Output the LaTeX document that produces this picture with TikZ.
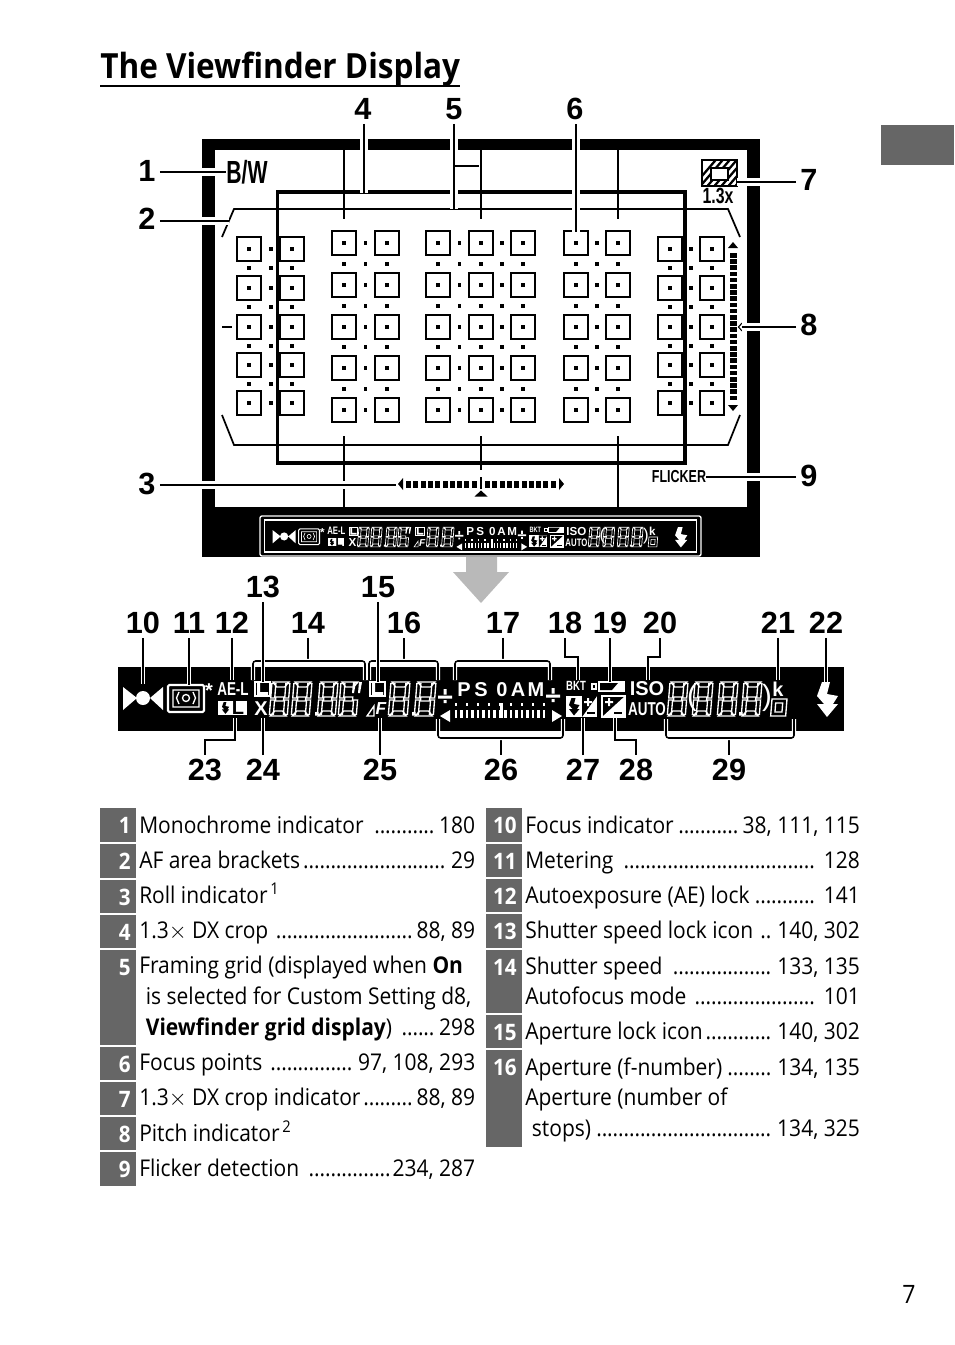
\documentclass[tikz,border=0pt]{standalone}
\usepackage{fontspec}
\setmainfont[FakeStretch=0.91]{Open Sans}
\setsansfont{Liberation Sans}
\newfontfamily\condfont[FakeStretch=0.72]{Liberation Sans}
\usetikzlibrary{positioning,calc}
\definecolor{tabgray}{HTML}{666666}
\definecolor{arrowgray}{HTML}{B9B9B9}

% leader dots of the table
\newcommand{\dotrun}{\leaders\hbox to 4.1pt{\hss.\hss}\hfill}

% seven segment digit, with and without the upper right segment
\newcommand{\segsix}[4]{
  \begin{scope}[shift={(#1,#2)},xslant=.08]
    \draw[lcdline] (1,0) -- (#3-1,0) -- (#3-5,5) -- (5,5) -- cycle;
    \draw[lcdline] (1,#4) -- (#3-1,#4) -- (#3-5,#4-5) -- (5,#4-5) -- cycle;
    \draw[lcdline] (5,#4/2-2) rectangle (#3-5,#4/2+2);
    \draw[lcdline] (0,1.5) rectangle (4,#4/2-1) (0,#4/2+1) rectangle (4,#4-1.5) (#3-4,#4/2+1) rectangle (#3,#4-1.5);
  \end{scope}
}
\newcommand{\segeight}[4]{
  \segsix{#1}{#2}{#3}{#4}
  \begin{scope}[shift={(#1,#2)},xslant=.08]
    \draw[lcdline] (#3-4,1.5) rectangle (#3,#4/2-1);
  \end{scope}
}
% flash bolt, drawn 21 wide and 35 high
\newcommand{\boltshape}[4]{
  \fill[#4] (#1,#2) [shift={(#1,#2)},scale=#3] (5,0) -- (13,0) -- (10,12) -- (21,14) -- (16,22) -- (21,22) -- (10,35) -- (0,22) -- (7,22) -- (0,14) -- cycle;
}
% the division sign of the exposure display
\newcommand{\plusdiv}[2]{
  \fill[white] (#1-7,#2-1.5) rectangle (#1+7,#2+1.5) (#1-1.5,#2-8) rectangle (#1+1.5,#2-2.5) (#1-1.5,#2+3) rectangle (#1+1.5,#2+6);
}

% the display strip, used large and small
\newcommand{\lcdbar}[1]{
  % focus indicator
  \fill[white] (123,687) -- (137,698) -- (123,710) -- cycle (163,687) -- (150,698) -- (163,710) -- cycle (143,698) circle (7);
  % metering
  \draw[lcdline,line width=1.6*\lcdlw,rounded corners=1] (168,685) rectangle (204,712);
  \draw[lcdline] (173,690) rectangle (199,707) (186,698) circle (3.5);
  \draw[lcdline] (179,692) -- (176.5,698) -- (179,704) (193,692) -- (195.5,698) -- (193,704);
  \node[lcdtext] (#1star) at (209,691) {*};
  \node[lcdcond] (#1ael) at (233,689) {AE-L};
  % flash lock
  \fill[white] (218,701) rectangle (247,715);
  \begin{scope}[shift={(222,702)},scale=.34]
    \boltshape{0}{0}{1}{black}
  \end{scope}
  \node[lcdtext,text=black] (#1fl) at (238,708) {L};
  % lock icons
  \foreach \x/\id in {255/a,370/b} {
    \draw[lcdline] (\x,682) rectangle ++(15,14);
    \fill[white] (\x+2,683) rectangle ++(3,12) (\x+2,692) rectangle ++(11,3);
  }
  \node[lcdtext] (#1x) at (261,709) {X};
  % shutter speed
  \foreach \x in {272,294,320} {\segeight{\x}{682}{18}{34}}
  \segsix{341}{682}{18}{34}
  \fill[white] (315,712) rectangle ++(3.5,3.5) (412,712) rectangle ++(3.5,3.5) (739,712) rectangle ++(3.5,3.5);
  \fill[white] (353,682) -- (356,682) -- (354,693) -- (352,693) -- cycle (359,682) -- (362,682) -- (360,693) -- (358,693) -- cycle;
  % aperture
  \draw[lcdline] (367,716) -- (374,706) -- (374,716) -- cycle;
  \node[lcdtext,font=\sffamily\bfseries\itshape\fontsize{13}{13}\selectfont] (#1f) at (381,709) {F};
  \segeight{391}{682}{19}{34}
  \segeight{417}{682}{19}{34}
  % modes
  \plusdiv{445}{697}
  \plusdiv{553}{696}
  \foreach \x/\ch in {464/P,481/S,502/0,518/A,536/M} {
    \node[lcdtext] (#1m\ch) at (\x,690) {\ch};
  }
  % exposure indicator
  \fill[white] (450,710) -- (440,716) -- (450,722) -- cycle (552,710) -- (562,716) -- (552,722) -- cycle;
  \foreach \x [count=\i] in {456,461.5,...,548} {
    \fill[white] (\x-1.2,710) rectangle ++(2.4,8);
    \ifodd\i \fill[white] (\x-1.2,703) rectangle ++(2.4,3); \fi
  }
  \fill[white] (499.5,703) rectangle (502.5,718);
  % bracketing and battery
  \node[lcdcond,font=\condfont\bfseries\fontsize{10}{10}\selectfont] (#1bkt) at (576,686) {BKT};
  \draw[lcdline] (592,684) rectangle ++(4,5);
  \fill[white] (598,681) rectangle (625,692);
  \fill[black] (600,683) -- (618,683) -- (612,690) -- (600,690) -- cycle;
  % flash and exposure compensation
  \fill[white] (566,696) rectangle (597,717);
  \begin{scope}[shift={(569,698)},scale=.5]
    \boltshape{0}{0}{1}{black}
  \end{scope}
  \fill[black] (582,717) -- (597,696) -- (582,696) -- cycle;
  \fill[white] (584,701) rectangle ++(8,2) (587,698) rectangle ++(2,8);
  \fill[black] (587,712) rectangle ++(8,2);
  \draw[lcdline] (602,696) rectangle (625,717);
  \fill[white] (602,717) -- (625,696) -- (625,717) -- cycle;
  \fill[white] (605,701) rectangle ++(8,2) (608,698) rectangle ++(2,8);
  \fill[black] (614,712) rectangle ++(8,2);
  % sensitivity and frame count
  \node[lcdtext] (#1iso) at (647,689) {ISO};
  \node[lcdcond] (#1auto) at (647,709) {AUTO};
  \segeight{670}{682}{18}{34}
  \node[lcdtext,font=\sffamily\fontsize{22}{22}\selectfont] (#1pl) at (692,698) {(};
  \segeight{695}{682}{18}{34}
  \segeight{720}{682}{18}{34}
  \segeight{744}{682}{18}{34}
  \node[lcdtext,font=\sffamily\fontsize{22}{22}\selectfont] (#1pr) at (767,698) {)};
  \node[lcdtext] (#1k) at (778,689) {k};
  \begin{scope}[shift={(772,699)},xslant=.08]
    \draw[lcdline] (0,0) rectangle (15,17) (4,4) rectangle (11,13);
  \end{scope}
  % ready light
  \boltshape{817}{682}{1}{white}
}

\begin{document}
\newcommand{\lcdlw}{1pt}
\begin{tikzpicture}[
    x=.75pt, y=-.75pt,
    numlabel/.style={font=\sffamily\bfseries\fontsize{23}{23}\selectfont, inner sep=3pt},
    lead/.style={line width=1.15pt, preaction={draw=white, line width=5.5pt}},
    leadbar/.style={line width=1.15pt, preaction={draw=white, line width=3.2pt}},
    gridline/.style={line width=1.3pt},
    afpoint/.style={rectangle, draw, line width=1.1pt, minimum size=18pt, inner sep=0pt},
    lcdline/.style={draw=white, line width=\lcdlw},
    lcdtext/.style={text=white, inner sep=0pt, font=\sffamily\bfseries\fontsize{15}{15}\selectfont},
    lcdcond/.style={text=white, inner sep=0pt, font=\condfont\bfseries\fontsize{14}{14}\selectfont},
    tabnum/.style={fill=tabgray, text=white, font=\bfseries\fontsize{17}{17}\selectfont},
    tabtext/.style={anchor=base west, inner sep=0pt, font=\fontsize{17.3}{17.3}\selectfont}
]
    \useasboundingbox (0,0) rectangle (954,1345);

    % Title and page furniture
    \node[anchor=base west, inner sep=0pt, font=\bfseries\fontsize{26}{26}\selectfont] (title) at (100,79) {The Viewfinder Display};
    \draw[line width=1.5pt] (100,86) -- (460,86);
    \fill[tabgray] (881,125) rectangle (954,165);
    \node[inner sep=0pt, font=\fontsize{19}{19}\selectfont] (pagenum) at (909,1294) {7};

    % Viewfinder frame
    \fill[black] (202,139) rectangle (760,557);
    \fill[white] (215,150) rectangle (747,507);

    % Crop area and brackets
    \draw[line width=2.7pt] (277.5,192) rectangle (685,463);
    \draw[gridline] (222,237) -- (234,209) -- (728,209) -- (740,237);
    \draw[gridline] (222,415) -- (234,445) -- (728,445) -- (740,415);
    \draw[gridline, line width=1.8pt] (222,327) -- (232,327);

    % Framing grid
    \foreach \x in {344,481,618} {
        \draw[gridline] (\x,150) -- (\x,219);
        \draw[gridline] (\x,436) -- (\x,470);
    }
    \foreach \x in {344,618} {
        \draw[gridline] (\x,470) -- (\x,507);
    }

    % Focus points
    \foreach \x in {249,292,670,712} {
        \foreach \y in {249,288,327,365,403} {
            \node[afpoint] (p\x-\y) at (\x,\y) {};
            \fill (\x-1.7,\y-1.7) rectangle ++(3.4,3.4);
        }
        \foreach \y in {268,307,346,384} {
            \fill (\x-1.7,\y-1.7) rectangle ++(3.4,3.4);
        }
    }
    \foreach \x in {270.5,691} {
        \foreach \y in {249,268,288,307,327,346,365,384,403} {
            \fill (\x-2,\y-2) rectangle ++(4,4);
        }
    }
    \foreach \x in {344,387,438,481,523,576,618} {
        \foreach \y in {243,285,327,368,410} {
            \node[afpoint] (p\x-\y) at (\x,\y) {};
            \fill (\x-1.7,\y-1.7) rectangle ++(3.4,3.4);
        }
        \foreach \y in {264,306,347,389} {
            \fill (\x-1.7,\y-1.7) rectangle ++(3.4,3.4);
        }
    }
    \foreach \x in {365.5,459.5,502,597} {
        \foreach \y in {243,264,285,306,327,347,368,389,410} {
            \fill (\x-1.7,\y-1.7) rectangle ++(3.4,3.4);
        }
    }

    % Pitch indicator
    \fill (733,242) -- (738,248) -- (728,248) -- cycle (733,411) -- (738,405) -- (728,405) -- cycle;
    \foreach \y in {253,259.2,...,400} {
        \fill (729.5,\y) rectangle ++(7,4.6);
    }
    \draw[line width=.8pt] (742,323) -- (738.5,327) -- (742,331);

    % Roll indicator
    \fill (398,484) -- (403,478) -- (403,490) -- cycle (564,484) -- (559,478) -- (559,490) -- cycle;
    \foreach \x in {406,413.3,...,474} {
        \fill (\x,480.5) rectangle ++(5,7);
    }
    \foreach \x in {485,492.3,...,552} {
        \fill (\x,480.5) rectangle ++(5,7);
    }
    \draw[gridline] (481,477) -- (481,489);
    \fill (481,490.5) -- (487.5,496.5) -- (474.5,496.5) -- cycle;

    % Crop icon
    \begin{scope}
        \clip (702,160) rectangle (737,186);
        \foreach \x in {690,697,...,760} {
            \draw[line width=1.7pt] (\x,190) -- (\x+30,155);
        }
    \end{scope}
    \draw[line width=1.2pt, fill=white] (711,168) rectangle (728,180);
    \draw[line width=1.5pt] (702,160) rectangle (737,186);
    \node[inner sep=0pt, font=\condfont\bfseries\fontsize{16.5}{16.5}\selectfont] (crop) at (718,196) {1.3x};
    \node[inner sep=0pt, font=\condfont\bfseries\fontsize{24}{24}\selectfont] (bw) at (247,172) {\scalebox{.92}[1]{B/W}};
    \node[inner sep=0pt, font=\condfont\bfseries\fontsize{13}{13}\selectfont] (flicker) at (679,477) {FLICKER};

    % Small display in the frame
    \draw[white, line width=1pt, rounded corners=1.5pt] (260,516) rectangle (701,556);
    \draw[white, line width=.9pt] (264.5,520) rectangle (696.5,552);
    \begin{scope}[shift={(201.2,131.6)}, scale=.58, transform shape]
        \renewcommand{\lcdlw}{.5pt}
        \lcdbar{m}
    \end{scope}

    % Gray arrow
    \fill[arrowgray] (466,557) -- (497,557) -- (497,572) -- (509,572) -- (481,603) -- (453,572) -- (466,572) -- cycle;

    % Numbers around the frame
    \node[numlabel] (n1) at (147,171) {1};
    \node[numlabel] (n2) at (147,219) {2};
    \node[numlabel] (n3) at (147,484) {3};
    \node[numlabel] (n4) at (363,109) {4};
    \node[numlabel] (n5) at (454,109) {5};
    \node[numlabel] (n6) at (575,109) {6};
    \node[numlabel] (n7) at (809,180) {7};
    \node[numlabel] (n8) at (809,325) {8};
    \node[numlabel] (n9) at (809,476) {9};
    \coordinate (c2) at (229,221);
    \coordinate (c3) at (396,485);
    \coordinate (c4) at (364,193);
    \coordinate (c5) at (454,209);
    \coordinate (c5b) at (479,166);
    \coordinate (c6) at (576,232);
    \coordinate (c7) at (737,182);
    \coordinate (c8) at (742,327);

    \draw[lead] (n1.east |- bw.west) -- (bw.west);
    \draw[lead] (n2.east |- c2) -- (c2);
    \draw[lead] (n3.east |- c3) -- (c3);
    \draw[lead] (n4.south -| c4) -- (c4);
    \draw[lead] (n5.south -| c5) -- (c5);
    \draw[line width=1.15pt] (c5 |- c5b) -- (c5b);
    \draw[lead] (n6.south -| c6) -- (c6);
    \draw[lead] (n7.west |- c7) -- (c7);
    \draw[lead] (n8.west |- c8) -- (c8);
    \draw[lead] (n9.west |- flicker.east) -- (flicker.east);

    % Large display
    \fill[black] (118,667) rectangle (844,731);
    \lcdbar{b}

    % Number brackets above and below the display
    \foreach \n/\x/\tx/\xa/\xb in {14/308/308/253/365, 16/404/404/369/438, 17/503/503/455/550} {
        \node[numlabel] (n\n) at (\x,623) {\n};
        \coordinate (t\n) at (\tx,661);
        \draw[leadbar] (n\n.south) -- (t\n);
        \draw[leadbar, rounded corners=2pt] (\xa,680) |- (t\n) -| (\xb,680);
    }
    \foreach \n/\x/\xa/\xb in {26/501/438/563, 29/729/666/794} {
        \node[numlabel] (n\n) at (\x,770) {\n};
        \coordinate (t\n) at (\x,738);
        \draw[leadbar] (n\n.north) -- (t\n);
        \draw[leadbar, rounded corners=2pt] (\xa,719) |- (t\n) -| (\xb,719);
    }

    % Straight numbers above and below the display
    \foreach \n/\x/\y/\yend in {10/143/623/684, 11/189/623/685, 12/232/623/680, 13/263/587/682, 15/378/587/682, 19/610/623/682, 21/778/623/680, 22/826/623/682} {
        \node[numlabel] (n\n) at (\x,\y) {\n};
        \coordinate (c\n) at (\x,\yend);
        \draw[leadbar] (n\n.south) -- (c\n);
    }
    \foreach \n/\x/\yend in {24/263/718, 25/380/718, 27/583/718} {
        \node[numlabel] (n\n) at (\x,770) {\n};
        \coordinate (c\n) at (\x,\yend);
        \draw[leadbar] (n\n.north) -- (c\n);
    }

    % Numbers with a kink
    \node[numlabel] (n18) at (565,623) {18};
    \coordinate (c18) at (578,680);
    \draw[leadbar] (n18.south) |- (578,657) -- (c18);
    \node[numlabel] (n20) at (660,623) {20};
    \coordinate (c20) at (648,680);
    \draw[leadbar] (n20.south) |- (648,657) -- (c20);
    \node[numlabel] (n23) at (205,770) {23};
    \coordinate (c23) at (235,718);
    \draw[leadbar] (n23.north) |- (235,740) -- (c23);
    \node[numlabel] (n28) at (636,770) {28};
    \coordinate (c28) at (615,718);
    \draw[leadbar] (n28.north) |- (615,740) -- (c28);

    % Table number boxes
    \foreach \n/\ya/\yb in {1/808/842, 2/844/878, 3/880/913, 4/915/948, 5/950/1045, 6/1047/1080, 7/1082/1115, 8/1117/1150, 9/1152/1186} {
        \fill[tabgray] (100,\ya) rectangle (136,\yb);
        \node[tabnum, anchor=north east, inner sep=0pt] (b\n) at (131,\ya+9) {\n};
    }
    \foreach \n/\ya/\yb in {10/808/842, 11/844/877, 12/879/912, 13/914/948, 14/950/1013, 15/1015/1048, 16/1050/1147} {
        \fill[tabgray] (486,\ya) rectangle (522,\yb);
        \node[tabnum, anchor=north east, inner sep=0pt] (b\n) at (517,\ya+9) {\n};
    }

    % Table text, left column
    \foreach \y/\txt [count=\i] in {
        833/{Monochrome indicator \dotrun 180},
        868/{AF area brackets\dotrun\ 29},
        903/{Roll indicator\textsuperscript{\,1}},
        938/{1.3$\times$ DX crop \dotrun 88, 89},
        973/{Framing grid (displayed when \textbf{On}},
        1004/{\kern5pt is selected for Custom Setting d8,},
        1035/{\kern5pt\textbf{Viewfinder grid display}) \dotrun 298},
        1070/{Focus points \dotrun\ 97, 108, 293},
        1105/{1.3$\times$ DX crop indicator\dotrun 88, 89},
        1141/{Pitch indicator\textsuperscript{\,2}},
        1176/{Flicker detection \dotrun 234, 287}} {
        \node[tabtext] (lrow\i) at (139,\y) {\hbox to 252pt{\txt\hfil}};
    }

    % Table text, right column
    \foreach \y/\txt [count=\i] in {
        833/{Focus indicator\dotrun 38, 111, 115},
        868/{Metering \dotrun\ 128},
        903/{Autoexposure (AE) lock\dotrun\ 141},
        938/{Shutter speed lock icon \dotrun\ 140, 302},
        974/{Shutter speed \dotrun\ 133, 135},
        1004/{Autofocus mode \dotrun\ 101},
        1039/{Aperture lock icon\dotrun\ 140, 302},
        1075/{Aperture (f-number)\dotrun\ 134, 135},
        1105/{Aperture (number of},
        1136/{\kern5pt stops)\dotrun\ 134, 325}} {
        \node[tabtext] (rrow\i) at (525,\y) {\hbox to 251pt{\txt\hfil}};
    }
\end{tikzpicture}
\end{document}
